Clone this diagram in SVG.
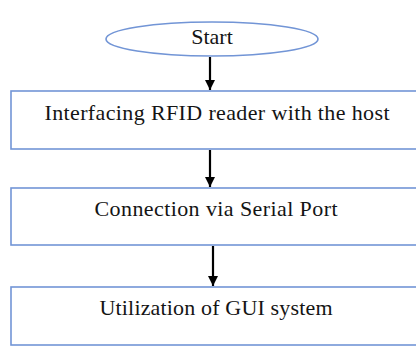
<svg xmlns="http://www.w3.org/2000/svg" width="416" height="347" viewBox="0 0 416 347">
  <style>
    .shape { fill: #ffffff; stroke: #7295d6; stroke-width: 1.6; }
    .label { font-family: "Liberation Serif", "Times New Roman", serif; font-size: 22px; fill: #141414; text-anchor: middle; }
    .flow { stroke: #000000; stroke-width: 2.2; fill: none; marker-end: url(#head); }
  </style>
  <defs>
    <marker id="head" viewBox="0 0 10 10" refX="10" refY="5" markerWidth="10" markerHeight="10" markerUnits="userSpaceOnUse" orient="auto">
      <path d="M0,0 L10,5 L0,10 Z" fill="#000000"/>
    </marker>
  </defs>
  <rect width="416" height="347" fill="#ffffff"/>

  <g id="connectors">
    <line class="flow" x1="210" y1="57" x2="210" y2="90"/>
    <line class="flow" x1="210" y1="150" x2="210" y2="187"/>
    <line class="flow" x1="213" y1="246" x2="213" y2="286"/>
  </g>

  <g id="start">
    <ellipse class="shape" cx="212" cy="39" rx="106" ry="17"/>
    <text class="label" x="212" y="44">Start</text>
  </g>

  <g id="interfacing">
    <rect class="shape" x="11" y="91" width="420" height="58"/>
    <text class="label" x="217" y="120" textLength="345" lengthAdjust="spacing">Interfacing  RFID reader with the host</text>
  </g>

  <g id="connection">
    <rect class="shape" x="11" y="188" width="420" height="57"/>
    <text class="label" x="216" y="216" textLength="243" lengthAdjust="spacing">Connection  via  Serial  Port</text>
  </g>

  <g id="utilization">
    <rect class="shape" x="11" y="287" width="420" height="58"/>
    <text class="label" x="216" y="315" textLength="233" lengthAdjust="spacing">Utilization  of GUI system</text>
  </g>
</svg>
